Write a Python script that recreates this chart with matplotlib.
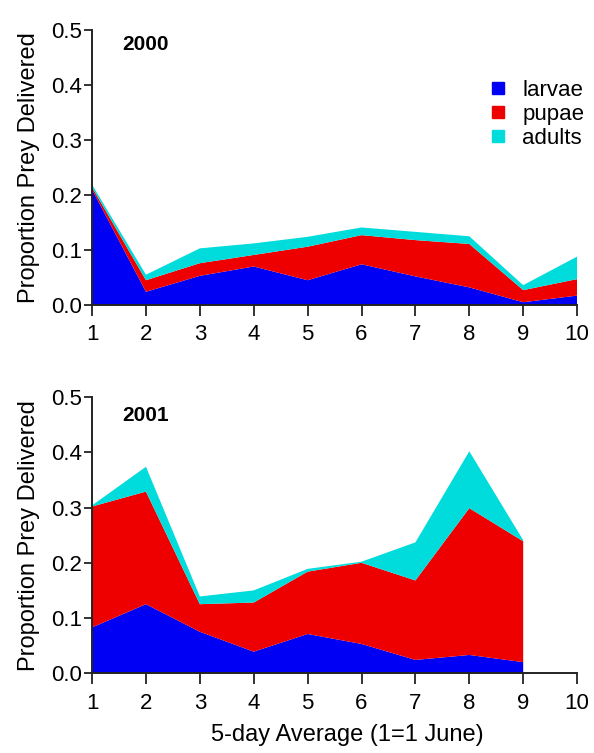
import matplotlib
matplotlib.use("Agg")
import matplotlib.pyplot as plt
from matplotlib.lines import Line2D

plt.rcParams['font.family'] = ['Liberation Sans', 'DejaVu Sans']

periods_2000 = [1, 2, 3, 4, 5, 6, 7, 8, 9, 10]
larvae_2000 = [0.210, 0.024, 0.053, 0.070, 0.045, 0.074, 0.052, 0.032, 0.005, 0.017]
pupae_2000 = [0.004, 0.021, 0.023, 0.021, 0.061, 0.053, 0.066, 0.079, 0.022, 0.030]
adults_2000 = [0.005, 0.010, 0.027, 0.021, 0.018, 0.014, 0.015, 0.014, 0.009, 0.041]

periods_2001 = [1, 2, 3, 4, 5, 6, 7, 8, 9]
larvae_2001 = [0.083, 0.125, 0.075, 0.039, 0.071, 0.053, 0.024, 0.033, 0.020]
pupae_2001 = [0.219, 0.204, 0.050, 0.089, 0.113, 0.147, 0.144, 0.266, 0.219]
adults_2001 = [0.002, 0.045, 0.014, 0.022, 0.005, 0.002, 0.069, 0.103, 0.002]

labels = ['larvae', 'pupae', 'adults']
colors = ['#0000f5', '#ee0000', '#00dcdc']
xticks = list(range(1, 11))
yticks = [0.0, 0.1, 0.2, 0.3, 0.4, 0.5]

fig = plt.figure(figsize=(5.94, 7.53), dpi=100)
ax1 = fig.add_axes([0.155, 0.595, 0.8165, 0.365])
ax2 = fig.add_axes([0.155, 0.106, 0.8165, 0.3665])

def style(ax, year, ypos):
    ax.set_xlim(1, 10)
    ax.set_ylim(0, 0.5)
    ax.set_xticks(xticks)
    ax.set_yticks(yticks)
    ax.set_yticklabels([f"{v:.1f}" for v in yticks])
    for s in ['top', 'right']:
        ax.spines[s].set_visible(False)
    for s in ['left', 'bottom']:
        ax.spines[s].set_linewidth(1.4)
        ax.spines[s].set_color('#222222')
    ax.tick_params(axis='x', direction='out', length=8, width=1.4, labelsize=16, color='#333333', pad=6)
    ax.tick_params(axis='y', direction='out', length=5.5, width=1.4, labelsize=16, color='#333333', pad=2)
    ax.set_ylabel('Proportion Prey Delivered', fontsize=17, labelpad=8)
    ax.text(0.062, ypos, year, transform=ax.transAxes, fontsize=15, fontweight='bold', va='center', ha='left')

ax1.stackplot(periods_2000, larvae_2000, pupae_2000, adults_2000, colors=colors, linewidth=0)
ax2.stackplot(periods_2001, larvae_2001, pupae_2001, adults_2001, colors=colors, linewidth=0)
style(ax1, '2000', 0.949)
style(ax2, '2001', 0.935)
ax2.set_xlabel('5-day Average (1=1 June)', fontsize=17, labelpad=2)
ax2.xaxis.set_label_coords(0.526, -0.185)

handles = [Line2D([], [], marker='s', linestyle='none', markersize=8, color=c) for c in colors]
ax1.legend(handles, labels, loc='upper left', bbox_to_anchor=(0.818, 0.82), frameon=False,
           fontsize=16, handlelength=0.8, handletextpad=0.7, labelspacing=0.15,
           borderaxespad=0, borderpad=0)

fig.savefig('out.png', dpi=100)
